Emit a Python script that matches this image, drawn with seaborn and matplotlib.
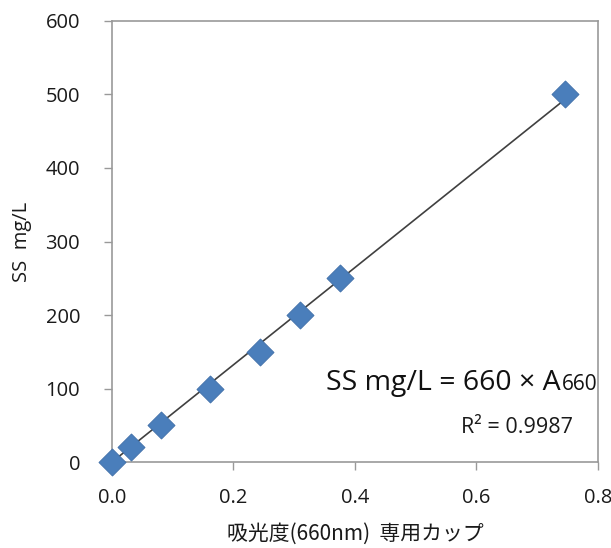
import numpy as np
import pandas as pd
import matplotlib
matplotlib.use("Agg")
import matplotlib.pyplot as plt
import seaborn as sns

absorbance = [0.0, 0.031, 0.081, 0.161, 0.244, 0.309, 0.375, 0.746]
ss_mgL = [0, 20, 50, 100, 150, 200, 250, 500]
x_ticks = [0.0, 0.2, 0.4, 0.6, 0.8]
y_ticks = [0, 100, 200, 300, 400, 500, 600]
x_label = "吸光度(660nm)  専用カップ"
y_label = "SS  mg/L"
equation_main = "SS mg/L = 660 × A"
equation_sub = "660"
r2_text = "R² = 0.9987"

sns.set_theme(style="white")
plt.rcParams['font.family'] = ['Open Sans', 'Noto Sans CJK JP', 'DejaVu Sans']

df = pd.DataFrame({"A": absorbance, "SS": ss_mgL})

fig = plt.figure(figsize=(6.11, 5.48), dpi=100)
ax = fig.add_axes([0.1833, 0.1569, 0.9787 - 0.1833, 0.9617 - 0.1569])

# trendline through origin
xa = np.array(absorbance)
ya = np.array(ss_mgL)
slope = (xa * ya).sum() / (xa * xa).sum()
xl = np.array([0, xa.max()])
sns.lineplot(x=xl, y=slope * xl, ax=ax, color="#404040", linewidth=1.2, zorder=2)

sns.scatterplot(data=df, x="A", y="SS", ax=ax, marker="D", s=190,
                color="#4A7EBB", edgecolor="#3F6FA8", linewidth=0.6, zorder=3, clip_on=False)

ax.set_xlim(0, 0.8)
ax.set_ylim(0, 600)
ax.set_xticks(x_ticks)
ax.set_xticklabels([f"{v:.1f}" for v in x_ticks])
ax.set_yticks(y_ticks)
ax.set_yticklabels([str(v) for v in y_ticks])

for s in ax.spines.values():
    s.set_color("#999999")
    s.set_linewidth(1.2)
ax.tick_params(axis="both", which="both", direction="out", length=6, width=1,
               color="#999999", labelsize=14.5, labelcolor="#1a1a1a")
ax.tick_params(axis="y", pad=17)
ax.tick_params(axis="x", pad=13)
ax.tick_params(bottom=True, left=True)

ax.set_xlabel(x_label, fontsize=15, color="#1a1a1a", labelpad=10,
              family=['Noto Sans CJK JP', 'DejaVu Sans'])
ax.set_ylabel(y_label, fontsize=14.5, color="#1a1a1a", labelpad=10)

t1 = ax.text(0.352, 98, equation_main, fontsize=20.5, ha="left", va="baseline", color="#111111")
fig.canvas.draw()
bb = t1.get_window_extent()
x_end = ax.transData.inverted().transform((bb.x1, bb.y0))[0]
ax.text(x_end + 0.002, 98, equation_sub, fontsize=15, ha="left", va="baseline", color="#111111")
ax.text(0.759, 39.5, r2_text, fontsize=15.5, ha="right", va="baseline", color="#1a1a1a")

fig.savefig("out.png", dpi=100)
